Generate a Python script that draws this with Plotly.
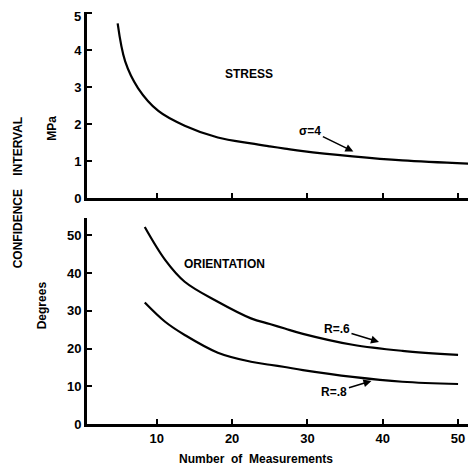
import plotly.graph_objects as go

# Data
stress_n = [4.8, 5.8, 7.5, 10.2, 13.7, 18.1, 22.5, 25.0, 27.0, 29.4, 36.0, 42.6, 51.7]
stress_ci = [4.73, 3.70, 2.98, 2.36, 1.96, 1.64, 1.48, 1.40, 1.34, 1.27, 1.13, 1.02, 0.93]

orient_n = [8.4, 11.1, 13.7, 18.1, 22.5, 25.0, 27.0, 29.4, 36.0, 42.6, 50.0]
r06_ci = [52.2, 43.5, 37.7, 32.4, 28.0, 26.5, 25.3, 23.9, 21.0, 19.4, 18.3]
r08_ci = [32.2, 27.1, 23.6, 18.9, 16.5, 15.7, 15.1, 14.3, 12.5, 11.2, 10.6]

x_ticks = [10, 20, 30, 40, 50]
top_y_ticks = [0, 1, 2, 3, 4, 5]
bot_y_ticks = [0, 10, 20, 30, 40, 50]

FONT = "Liberation Sans"
fig = go.Figure()
line = dict(color="black", width=2.2, shape="spline", smoothing=1.0)
fig.add_trace(go.Scatter(x=stress_n, y=stress_ci, mode="lines", line=line, xaxis="x2", yaxis="y2"))
fig.add_trace(go.Scatter(x=orient_n, y=r06_ci, mode="lines", line=line, xaxis="x", yaxis="y"))
fig.add_trace(go.Scatter(x=orient_n, y=r08_ci, mode="lines", line=line, xaxis="x", yaxis="y"))

xr = [0.73, 52.25]
tickfont = dict(family=FONT, size=13, color="black", weight="bold")
axis_common = dict(showline=True, linecolor="black", linewidth=2.8, ticks="inside",
                   ticklen=5, tickwidth=2, tickcolor="black", showgrid=False, zeroline=False,
                   ticklabeloverflow="allow", automargin=False, tickfont=tickfont)

# the top label of the upper panel sits at the page edge; it is drawn as an annotation
top_tick_text = [str(v) for v in top_y_ticks[:-1]] + [""]

# page body has an 8px margin, so the figure is offset by 8px
fig.update_layout(
    width=468, height=464,
    margin=dict(l=79, r=1, t=4, b=48, autoexpand=False),
    paper_bgcolor="white", plot_bgcolor="white",
    showlegend=False,
    xaxis=dict(domain=[0, 1], range=xr, anchor="y", tickvals=x_ticks, **axis_common),
    yaxis=dict(domain=[0, 0.5], range=[0, 54.6], anchor="x", tickvals=bot_y_ticks, **axis_common),
    xaxis2=dict(domain=[0, 1], range=xr, anchor="y2", tickvals=x_ticks, showticklabels=False, **axis_common),
    yaxis2=dict(domain=[0.5485, 1], range=[0, 5.04], anchor="x2", tickvals=top_y_ticks,
                ticktext=top_tick_text, **axis_common),
)

tf = dict(family=FONT, size=12, color="black", weight="bold")
ann = [
    dict(text=str(top_y_ticks[-1]), x=-0.012, y=1.0097, xref="paper", yref="paper",
         xanchor="right", yanchor="top", showarrow=False, font=tickfont, borderpad=0),
    dict(text="STRESS", x=22.3, y=3.35, xref="x2", yref="y2", showarrow=False, font=tf),
    dict(text="σ=4", x=36.1, y=1.26, xref="x2", yref="y2", ax=-43, ay=-21, showarrow=True,
         arrowhead=2, arrowsize=1, arrowwidth=1.6, arrowcolor="black", font=tf),
    dict(text="ORIENTATION", x=19.0, y=42.4, xref="x", yref="y", showarrow=False, font=tf),
    dict(text="R=.6", x=39.5, y=21.75, xref="x", yref="y", ax=-42, ay=-13, showarrow=True,
         arrowhead=2, arrowsize=1, arrowwidth=1.6, arrowcolor="black", font=tf),
    dict(text="R=.8", x=38.5, y=11.4, xref="x", yref="y", ax=-37, ay=11, showarrow=True,
         arrowhead=2, arrowsize=1, arrowwidth=1.6, arrowcolor="black", font=tf),
    dict(text="CONFIDENCE    INTERVAL", x=-0.177, y=0.563, xref="paper", yref="paper",
         textangle=-90, showarrow=False, font=tf, xanchor="center", yanchor="middle"),
    dict(text="MPa", x=-0.09, y=0.717, xref="paper", yref="paper",
         textangle=-90, showarrow=False, font=tf, xanchor="center", yanchor="middle"),
    dict(text="Degrees", x=-0.115, y=0.289, xref="paper", yref="paper",
         textangle=-90, showarrow=False, font=tf, xanchor="center", yanchor="middle"),
    dict(text="Number  of  Measurements", x=(256 - 87) / 388, y=(424 - 459) / 412,
         xref="paper", yref="paper", showarrow=False, font=tf, xanchor="center", yanchor="middle"),
]
fig.update_layout(annotations=ann)
fig.write_html("out.html")
